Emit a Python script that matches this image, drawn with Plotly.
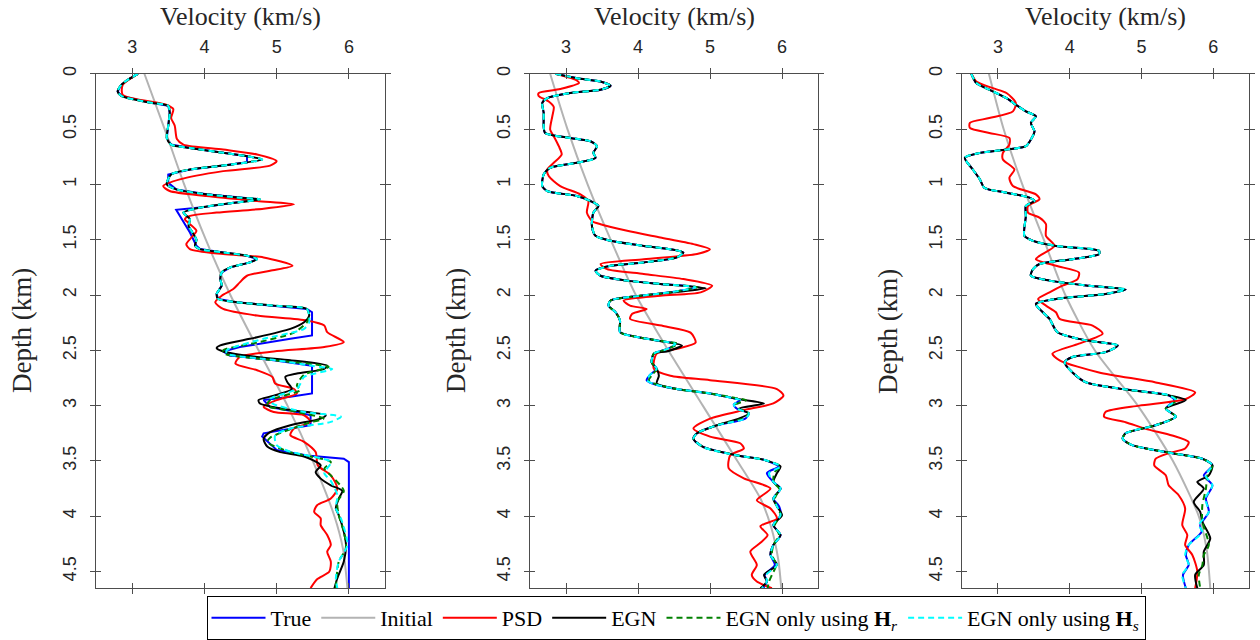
import plotly.graph_objects as go

# ---------------- axis ticks / labels ----------------
VEL_TICKS = [3, 4, 5, 6]
VEL_RANGE = [2.5, 6.5]
DEPTH_TICKS = [0, 0.5, 1, 1.5, 2, 2.5, 3, 3.5, 4, 4.5]
DEPTH_TICK_TEXT = ["0", "0.5", "1", "1.5", "2", "2.5", "3", "3.5", "4", "4.5"]
DEPTH_RANGE = [4.65, 0]
X_TITLE = "Velocity (km/s)"
Y_TITLE = "Depth (km)"
SERIES_NAMES = ["True", "Initial", "PSD", "EGN",
                "EGN only using <b>H</b><sub><i>r</i></sub>",
                "EGN only using <b>H</b><sub><i>s</i></sub>"]

# ---------------- panel 1 : (depth km, velocity km/s) ----------------
P1_TRUE = [(0, 3.08), (0.05, 2.95), (0.1, 2.85), (0.16, 2.80), (0.2, 2.85), (0.26, 3.24), (0.29, 3.50),
           (0.35, 3.52), (0.47, 3.50), (0.58, 3.48), (0.64, 3.54), (0.67, 3.80), (0.715, 4.26), (0.745, 4.59),
           (0.80, 4.59), (0.83, 4.26), (0.865, 3.80), (0.91, 3.50), (0.985, 3.50), (1.045, 3.61), (1.09, 4.03),
           (1.12, 4.49), (1.135, 4.77), (1.17, 4.36), (1.21, 3.94), (1.23, 3.61), (1.435, 3.80), (1.555, 3.89),
           (1.585, 3.94), (1.615, 4.26), (1.645, 4.59), (1.675, 4.73), (1.705, 4.63), (1.75, 4.36), (1.795, 4.24),
           (1.855, 4.22), (1.915, 4.24), (1.99, 4.17), (2.035, 4.19), (2.066, 4.45), (2.096, 4.96), (2.126, 5.42),
           (2.156, 5.49), (2.366, 5.49), (2.396, 5.19), (2.47, 4.49), (2.51, 4.26), (2.547, 4.35), (2.59, 4.96),
           (2.64, 5.49), (2.89, 5.49), (2.92, 5.19), (2.95, 4.82), (3.012, 4.91), (3.057, 5.28), (3.087, 5.47),
           (3.177, 5.47), (3.22, 5.10), (3.25, 4.82), (3.28, 4.80), (3.40, 5.0), (3.45, 5.42), (3.48, 5.93),
           (3.51, 6.0), (4.65, 6.0)]
P1_INIT = [(0, 3.17), (0.5, 3.45), (1.0, 3.72), (1.5, 4.02), (2.0, 4.36), (2.5, 4.75), (3.0, 5.15),
           (3.5, 5.50), (4.0, 5.80), (4.3, 5.92), (4.65, 5.98)]
P1_PSD = [(0, 3.08), (0.1, 2.87), (0.19, 2.87), (0.28, 3.47), (0.32, 3.57), (0.40, 3.54), (0.47, 3.59),
          (0.59, 3.62), (0.64, 3.71), (0.685, 4.26), (0.73, 4.73), (0.79, 5.0), (0.83, 4.91), (0.88, 4.26),
          (0.955, 3.66), (1.015, 3.43), (1.06, 3.52), (1.105, 4.03), (1.15, 4.73), (1.18, 5.24), (1.22, 4.82),
          (1.255, 4.17), (1.285, 3.80), (1.315, 3.73), (1.36, 3.80), (1.42, 3.89), (1.48, 3.82), (1.54, 3.75),
          (1.585, 3.80), (1.63, 4.26), (1.66, 4.82), (1.735, 5.22), (1.78, 4.91), (1.826, 4.59), (1.886, 4.49),
          (1.946, 4.40), (2.006, 4.24), (2.066, 4.15), (2.126, 4.26), (2.186, 4.73), (2.23, 5.42), (2.276, 5.66),
          (2.336, 5.70), (2.426, 5.93), (2.47, 5.66), (2.51, 4.96), (2.56, 4.49), (2.62, 4.43), (2.68, 4.73),
          (2.74, 4.94), (2.80, 4.98), (2.85, 5.24), (2.89, 5.28), (2.95, 5.0), (3.01, 4.82), (3.057, 4.96),
          (3.087, 5.38), (3.147, 5.47), (3.207, 5.24), (3.267, 5.19), (3.327, 5.38), (3.42, 5.54), (3.54, 5.57),
          (3.63, 5.75), (3.75, 5.84), (3.84, 5.75), (3.90, 5.56), (3.96, 5.52), (4.02, 5.61), (4.08, 5.61),
          (4.17, 5.70), (4.26, 5.75), (4.32, 5.70), (4.41, 5.75), (4.50, 5.73), (4.57, 5.56), (4.65, 5.47)]
P1_EGN_UPPER = [(0, 3.08), (0.05, 2.95), (0.1, 2.85), (0.16, 2.80), (0.2, 2.85), (0.26, 3.24), (0.29, 3.50),
                (0.35, 3.52), (0.47, 3.50), (0.58, 3.48), (0.64, 3.54), (0.67, 3.80), (0.715, 4.26), (0.745, 4.59),
                (0.775, 4.80), (0.83, 4.26), (0.865, 3.80), (0.91, 3.54), (1.0, 3.48), (1.045, 3.61), (1.09, 4.03),
                (1.12, 4.49), (1.135, 4.77), (1.17, 4.36), (1.21, 3.94), (1.255, 3.71), (1.315, 3.80), (1.375, 3.78),
                (1.42, 3.82), (1.5, 3.89), (1.555, 3.87), (1.585, 3.94), (1.615, 4.26), (1.645, 4.59), (1.675, 4.73),
                (1.705, 4.63), (1.75, 4.36), (1.795, 4.24), (1.855, 4.22), (1.915, 4.24), (1.99, 4.17), (2.035, 4.19),
                (2.066, 4.45), (2.096, 4.96), (2.126, 5.42), (2.186, 5.45)]
P1_EGN_LOWER = [(2.246, 5.38), (2.306, 5.19), (2.396, 4.63), (2.456, 4.22), (2.48, 4.17), (2.51, 4.26),
                (2.56, 4.73), (2.59, 5.19), (2.64, 5.70), (2.67, 5.65), (2.71, 5.28), (2.74, 5.12), (2.79, 5.15),
                (2.85, 5.21), (2.91, 4.96), (2.95, 4.75), (2.98, 4.77), (3.04, 5.19), (3.087, 5.68), (3.117, 5.61),
                (3.177, 5.19), (3.24, 4.91), (3.30, 4.82), (3.37, 4.87), (3.42, 5.05), (3.46, 5.38), (3.54, 5.61),
                (3.60, 5.54), (3.66, 5.61), (3.72, 5.75), (3.77, 5.91), (3.84, 5.86), (3.93, 5.82), (3.99, 5.86),
                (4.14, 5.93), (4.26, 5.96), (4.41, 5.93), (4.56, 5.84), (4.65, 5.80)]
P1_HR_LOWER = [(2.246, 5.42), (2.34, 5.24), (2.43, 4.73), (2.50, 4.26), (2.53, 4.28), (2.59, 4.96), (2.65, 5.72),
               (2.72, 5.38), (2.82, 5.28), (2.86, 5.33), (2.95, 4.91), (3.0, 4.87), (3.057, 5.28), (3.117, 5.65),
               (3.16, 5.42), (3.29, 4.91), (3.33, 4.87), (3.42, 5.19), (3.51, 5.75), (3.57, 5.66), (3.63, 5.75),
               (3.77, 5.93), (3.87, 5.84), (3.99, 5.86), (4.14, 5.93), (4.29, 5.96), (4.41, 5.86), (4.65, 5.82)]
P1_HS_LOWER = [(2.246, 5.45), (2.306, 5.38), (2.396, 4.82), (2.50, 4.31), (2.53, 4.31), (2.59, 5.0), (2.64, 5.49),
               (2.67, 5.77), (2.74, 5.38), (2.80, 5.33), (2.85, 5.28), (2.94, 4.91), (2.98, 4.94), (3.057, 5.38),
               (3.10, 5.89), (3.147, 5.75), (3.207, 5.19), (3.267, 4.98), (3.357, 5.0), (3.417, 5.19), (3.51, 5.75),
               (3.61, 5.66), (3.68, 5.75), (3.81, 5.84), (3.93, 5.82), (4.02, 5.89), (4.26, 5.98), (4.41, 5.86),
               (4.56, 5.82), (4.65, 5.84)]

# ---------------- panel 2 ----------------
P2_UPPER = [(0, 2.85), (0.04, 3.15), (0.07, 3.48), (0.108, 3.62), (0.144, 3.48), (0.174, 3.06), (0.22, 2.74),
            (0.264, 2.67), (0.354, 2.69), (0.474, 2.69), (0.535, 2.71), (0.58, 3.06), (0.61, 3.34), (0.655, 3.43),
            (0.715, 3.38), (0.76, 3.41), (0.805, 3.15), (0.85, 2.78), (0.91, 2.69), (1.015, 2.67), (1.06, 2.74),
            (1.105, 3.15), (1.15, 3.34), (1.195, 3.45), (1.255, 3.38), (1.375, 3.36), (1.465, 3.41), (1.51, 3.62),
            (1.556, 4.08), (1.586, 4.45), (1.616, 4.63), (1.66, 4.54), (1.706, 4.08), (1.736, 3.62), (1.78, 3.41),
            (1.826, 3.48), (1.87, 3.85), (1.90, 4.31)]
P2_EGN_LOWER = [(1.94, 4.94), (1.976, 4.50), (2.01, 3.99), (2.05, 3.62), (2.096, 3.59), (2.156, 3.69),
                (2.23, 3.75), (2.336, 3.75), (2.38, 3.99), (2.426, 4.40), (2.456, 4.61), (2.51, 4.40), (2.53, 4.22),
                (2.61, 4.19), (2.666, 4.26), (2.73, 4.29), (2.80, 4.26), (2.85, 4.54), (2.89, 5.0), (2.94, 5.38),
                (2.98, 5.75), (3.027, 5.40), (3.07, 5.54), (3.117, 5.40), (3.177, 5.10), (3.25, 4.82), (3.30, 4.77),
                (3.376, 4.91), (3.45, 5.38), (3.49, 5.75), (3.55, 5.98), (3.61, 5.93), (3.69, 5.88), (3.75, 5.98),
                (3.84, 5.88), (3.91, 5.93), (3.99, 6.0), (4.08, 5.88), (4.17, 5.98), (4.26, 5.88), (4.35, 5.84),
                (4.44, 5.93), (4.53, 5.75), (4.59, 5.79), (4.65, 5.70)]
P2_HS_LOWER = [(1.93, 4.80), (1.976, 4.45), (2.01, 3.99), (2.05, 3.62), (2.096, 3.59), (2.156, 3.69),
               (2.23, 3.75), (2.336, 3.75), (2.38, 3.99), (2.42, 4.35), (2.44, 4.52), (2.49, 4.40), (2.53, 4.22),
               (2.61, 4.19), (2.666, 4.26), (2.72, 4.17), (2.77, 4.12), (2.80, 4.20), (2.85, 4.54), (2.89, 5.0),
               (2.93, 5.30), (2.95, 5.42), (2.99, 5.33), (3.03, 5.38), (3.07, 5.54), (3.117, 5.49), (3.177, 5.10),
               (3.25, 4.82), (3.30, 4.77), (3.376, 4.91), (3.45, 5.38), (3.49, 5.75), (3.55, 5.98), (3.61, 5.82),
               (3.69, 5.88), (3.75, 5.98), (3.84, 5.88), (3.91, 5.93), (3.99, 5.98), (4.08, 5.88), (4.17, 5.98),
               (4.26, 5.88), (4.35, 5.84), (4.44, 5.93), (4.53, 5.78), (4.59, 5.79), (4.65, 5.72)]
P2_TRUE_LOWER = [(1.93, 4.80), (1.976, 4.45), (2.01, 3.99), (2.05, 3.62), (2.096, 3.59), (2.156, 3.69),
                 (2.23, 3.75), (2.336, 3.75), (2.38, 3.99), (2.42, 4.35), (2.44, 4.52), (2.49, 4.40), (2.53, 4.22),
                 (2.61, 4.19), (2.666, 4.26), (2.72, 4.17), (2.77, 4.12), (2.80, 4.20), (2.85, 4.54), (2.89, 5.0),
                 (2.93, 5.30), (2.95, 5.42), (2.99, 5.33), (3.03, 5.38), (3.07, 5.54), (3.117, 5.49), (3.177, 5.10),
                 (3.25, 4.82), (3.30, 4.77), (3.376, 4.91), (3.45, 5.38), (3.49, 5.75), (3.55, 5.95), (3.61, 5.79),
                 (3.69, 5.88), (3.75, 5.98), (3.84, 5.88), (3.91, 5.96), (3.99, 5.98), (4.08, 5.88), (4.17, 5.98),
                 (4.26, 5.88), (4.35, 5.84), (4.44, 5.90), (4.53, 5.76), (4.59, 5.79), (4.65, 5.74)]
P2_HR_LOWER = [(1.93, 4.82), (1.976, 4.45), (2.01, 3.99), (2.05, 3.62), (2.096, 3.59), (2.156, 3.69),
               (2.23, 3.75), (2.336, 3.75), (2.38, 3.99), (2.42, 4.37), (2.44, 4.55), (2.49, 4.40), (2.53, 4.22),
               (2.61, 4.19), (2.666, 4.26), (2.72, 4.20), (2.77, 4.15), (2.80, 4.22), (2.85, 4.54), (2.89, 5.0),
               (2.93, 5.35), (2.95, 5.50), (2.99, 5.36), (3.03, 5.40), (3.07, 5.54), (3.117, 5.45), (3.177, 5.10),
               (3.25, 4.82), (3.30, 4.77), (3.376, 4.91), (3.45, 5.38), (3.49, 5.75), (3.55, 5.98), (3.60, 5.90),
               (3.69, 5.88), (3.75, 5.96), (3.84, 5.90), (3.91, 5.93), (3.99, 5.98), (4.08, 5.90), (4.17, 5.96),
               (4.26, 5.88), (4.35, 5.86), (4.44, 5.92), (4.53, 5.86), (4.59, 5.82), (4.65, 5.80)]
P2_INIT = [(0, 2.78), (0.5, 3.02), (1.0, 3.30), (1.5, 3.62), (2.0, 3.97), (2.5, 4.42), (3.0, 4.90), (3.5, 5.38),
           (3.84, 5.70), (4.1, 5.85), (4.4, 5.95), (4.65, 5.99)]
P2_PSD = [(0, 2.85), (0.054, 3.13), (0.084, 3.18), (0.138, 2.92), (0.174, 2.62), (0.20, 2.62), (0.25, 2.76),
          (0.30, 2.83), (0.384, 2.81), (0.505, 2.78), (0.565, 2.83), (0.655, 2.90), (0.73, 2.94), (0.805, 2.83),
          (0.865, 2.74), (0.925, 2.76), (1.015, 2.92), (1.09, 3.20), (1.15, 3.31), (1.255, 3.29), (1.33, 3.36),
          (1.36, 3.48), (1.42, 3.85), (1.48, 4.31), (1.54, 4.77), (1.586, 5.0), (1.63, 4.82), (1.676, 4.08),
          (1.72, 3.48), (1.766, 3.57), (1.81, 4.08), (1.856, 4.63), (1.916, 5.03), (1.976, 4.87), (2.006, 4.31),
          (2.05, 3.80), (2.096, 3.89), (2.126, 4.12), (2.17, 3.92), (2.216, 3.89), (2.28, 4.35), (2.34, 4.73),
          (2.43, 4.80), (2.486, 4.54), (2.53, 4.26), (2.666, 4.22), (2.73, 4.45), (2.77, 5.0), (2.85, 5.93),
          (2.91, 6.02), (2.98, 5.88), (3.04, 5.47), (3.117, 5.0), (3.207, 4.77), (3.28, 5.0), (3.34, 5.42),
          (3.387, 5.47), (3.45, 5.28), (3.567, 5.26), (3.657, 5.47), (3.75, 5.84), (3.855, 5.65), (3.93, 5.84),
          (4.02, 5.93), (4.09, 5.70), (4.17, 5.80), (4.24, 5.70), (4.32, 5.56), (4.44, 5.65), (4.53, 5.58),
          (4.59, 5.65), (4.65, 5.86)]

# ---------------- panel 3 ----------------
P3_UPPER = [(0, 2.63), (0.084, 2.70), (0.144, 2.88), (0.22, 3.12), (0.28, 3.25), (0.34, 3.39), (0.384, 3.53),
            (0.444, 3.46), (0.52, 3.51), (0.595, 3.46), (0.655, 3.39), (0.685, 3.12), (0.715, 2.75), (0.76, 2.54),
            (0.865, 2.65), (0.955, 2.75), (1.03, 2.81), (1.075, 3.12), (1.12, 3.44), (1.15, 3.51), (1.195, 3.39),
            (1.285, 3.39), (1.465, 3.37), (1.51, 3.49), (1.556, 3.81), (1.60, 4.41), (1.63, 4.41), (1.676, 4.04),
            (1.72, 3.58), (1.766, 3.49), (1.826, 3.46), (1.87, 3.72), (1.916, 4.27), (1.95, 4.78), (1.99, 4.50),
            (2.036, 3.81), (2.08, 3.53), (2.126, 3.58), (2.216, 3.72), (2.336, 3.83), (2.41, 4.23), (2.456, 4.67),
            (2.516, 4.50), (2.56, 4.04), (2.61, 3.93), (2.70, 4.04), (2.79, 4.23), (2.85, 4.74), (2.907, 5.38)]
P3_EGN_LOWER = [(2.95, 5.62), (3.027, 5.34), (3.10, 5.48), (3.177, 5.20), (3.25, 4.78), (3.30, 4.74),
                (3.357, 4.87), (3.43, 5.43), (3.48, 5.85), (3.54, 5.99), (3.63, 5.94), (3.69, 5.78), (3.75, 5.87),
                (3.87, 5.73), (3.96, 5.82), (4.05, 5.85), (4.20, 5.96), (4.32, 5.87), (4.44, 5.87), (4.53, 5.75),
                (4.65, 5.78)]
P3_HS_LOWER = [(2.95, 5.48), (3.027, 5.34), (3.10, 5.48), (3.177, 5.20), (3.25, 4.78), (3.30, 4.74),
               (3.357, 4.87), (3.43, 5.43), (3.48, 5.85), (3.54, 5.99), (3.63, 5.89), (3.72, 5.99), (3.84, 5.89),
               (3.96, 5.94), (4.08, 5.80), (4.14, 5.85), (4.26, 5.66), (4.35, 5.61), (4.44, 5.66), (4.53, 5.57),
               (4.65, 5.62)]
P3_TRUE_LOWER = [(2.95, 5.46), (3.027, 5.34), (3.10, 5.48), (3.177, 5.20), (3.25, 4.78), (3.30, 4.74),
                 (3.357, 4.87), (3.43, 5.43), (3.48, 5.85), (3.54, 5.99), (3.63, 5.87), (3.72, 5.99), (3.84, 5.90),
                 (3.96, 5.94), (4.08, 5.82), (4.14, 5.84), (4.26, 5.66), (4.35, 5.62), (4.44, 5.66), (4.53, 5.58),
                 (4.65, 5.62)]
P3_HR_LOWER = [(2.95, 5.50), (3.027, 5.34), (3.10, 5.48), (3.177, 5.20), (3.25, 4.78), (3.30, 4.74),
               (3.357, 4.87), (3.43, 5.43), (3.48, 5.85), (3.54, 5.99), (3.63, 5.92), (3.75, 5.90), (3.90, 5.85),
               (4.05, 5.85), (4.26, 5.94), (4.35, 5.87), (4.44, 5.85), (4.53, 5.80), (4.65, 5.82)]
P3_INIT = [(0, 2.875), (0.5, 3.08), (1.0, 3.34), (1.5, 3.64), (2.0, 3.94), (2.5, 4.35), (3.0, 4.95), (3.5, 5.44),
           (4.0, 5.80), (4.3, 5.91), (4.65, 5.96)]
P3_PSD = [(0, 2.63), (0.07, 2.70), (0.13, 2.93), (0.174, 3.12), (0.264, 3.25), (0.34, 3.21), (0.40, 2.88),
          (0.444, 2.61), (0.49, 2.61), (0.535, 2.88), (0.58, 3.16), (0.64, 3.16), (0.715, 3.07), (0.775, 3.07),
          (0.865, 3.23), (0.94, 3.16), (1.015, 3.21), (1.09, 3.53), (1.135, 3.58), (1.195, 3.42), (1.255, 3.42),
          (1.30, 3.58), (1.36, 3.67), (1.465, 3.67), (1.556, 3.79), (1.646, 3.58), (1.676, 3.53), (1.736, 3.81),
          (1.796, 4.13), (1.856, 4.11), (1.916, 3.90), (1.976, 3.72), (2.036, 3.56), (2.096, 3.67), (2.156, 3.81),
          (2.216, 3.86), (2.276, 4.32), (2.35, 4.46), (2.44, 4.13), (2.53, 3.76), (2.59, 3.86), (2.70, 4.41),
          (2.79, 5.20), (2.88, 5.75), (2.94, 5.62), (3.0, 4.97), (3.057, 4.50), (3.10, 4.48), (3.15, 4.78),
          (3.21, 5.06), (3.27, 5.43), (3.33, 5.66), (3.387, 5.61), (3.43, 5.38), (3.48, 5.20), (3.54, 5.18),
          (3.63, 5.34), (3.72, 5.38), (3.81, 5.52), (3.93, 5.61), (4.08, 5.57), (4.17, 5.64), (4.26, 5.61),
          (4.35, 5.71), (4.50, 5.78), (4.65, 5.75)]

PANELS = [
    [P1_TRUE, P1_INIT, P1_PSD, P1_EGN_UPPER + P1_EGN_LOWER, P1_EGN_UPPER + P1_HR_LOWER, P1_EGN_UPPER + P1_HS_LOWER],
    [P2_UPPER + P2_TRUE_LOWER, P2_INIT, P2_PSD, P2_UPPER + P2_EGN_LOWER, P2_UPPER + P2_HR_LOWER, P2_UPPER + P2_HS_LOWER],
    [P3_UPPER + P3_TRUE_LOWER, P3_INIT, P3_PSD, P3_UPPER + P3_EGN_LOWER, P3_UPPER + P3_HR_LOWER, P3_UPPER + P3_HS_LOWER],
]

# ---------------- styling ----------------
COLORS = ["#0000ff", "#b3b3b3", "#ff0000", "#000000", "#008000", "#00ffff"]
DASHES = ["solid", "solid", "solid", "solid", "6px,4px", "6px,4px"]
X_DOMAINS = [[96 / 1260, 385 / 1260], [530 / 1260, 818 / 1260], [962 / 1260, 1249 / 1260]]
Y_DOMAIN = [1 - 590 / 640, 1 - 74 / 640]
AX_COLOR = "#4d4d4d"
TXT_COLOR = "#262626"
SERIF = "Liberation Serif"
SANS = "Liberation Sans"

fig = go.Figure()

for i, panel in enumerate(PANELS):
    k = i + 1
    xa = "x" if k == 1 else f"x{k}"
    ya = "y" if k == 1 else f"y{k}"
    for j, series in enumerate(panel):
        depth = [p[0] for p in series]
        vel = [p[1] for p in series]
        shape = "linear" if (k == 1 and j == 0) else "spline"
        fig.add_trace(go.Scatter(
            x=vel, y=depth, mode="lines", xaxis=xa, yaxis=ya,
            name=SERIES_NAMES[j], legendgroup=SERIES_NAMES[j], showlegend=(k == 1),
            line=dict(color=COLORS[j], width=2, dash=DASHES[j], shape=shape, smoothing=0.7),
            hoverinfo="skip",
        ))
    # empty trace for the overlay (inner-tick) axes
    fig.add_trace(go.Scatter(x=[], y=[], xaxis=f"x{k + 3}", yaxis=f"y{k + 3}",
                             showlegend=False, hoverinfo="skip"))

annotations = []
layout = dict(
    width=1260, height=640,
    margin=dict(l=0, r=0, t=0, b=0),
    paper_bgcolor="white", plot_bgcolor="white",
    font=dict(family=SERIF, size=18, color=TXT_COLOR),
    showlegend=True,
    legend=dict(
        orientation="h", x=676 / 1260, xanchor="center", y=1 - 598 / 640, yanchor="top",
        bordercolor="#000000", borderwidth=1, bgcolor="white",
        font=dict(family=SERIF, size=22, color="#000000"),
        itemwidth=54, tracegroupgap=0,
    ),
)

for i in range(3):
    k = i + 1
    xkey = "xaxis" if k == 1 else f"xaxis{k}"
    ykey = "yaxis" if k == 1 else f"yaxis{k}"
    layout[xkey] = dict(
        domain=X_DOMAINS[i], anchor="y" if k == 1 else f"y{k}", range=VEL_RANGE, side="top",
        tickvals=VEL_TICKS, ticks="outside", ticklen=5, tickcolor=AX_COLOR, tickwidth=1,
        showline=True, linecolor=AX_COLOR, linewidth=1, mirror="ticks",
        showgrid=False, zeroline=False, automargin=False,
        tickfont=dict(family=SANS, size=18, color=TXT_COLOR), ticklabelstandoff=8,
        fixedrange=True,
    )
    layout[ykey] = dict(
        domain=Y_DOMAIN, anchor="x" if k == 1 else f"x{k}", range=DEPTH_RANGE,
        tickvals=DEPTH_TICKS, ticktext=DEPTH_TICK_TEXT, tickangle=-90,
        ticks="outside", ticklen=5, tickcolor=AX_COLOR, tickwidth=1,
        showline=True, linecolor=AX_COLOR, linewidth=1, mirror="ticks",
        showgrid=False, zeroline=False, automargin=False,
        tickfont=dict(family=SANS, size=18, color=TXT_COLOR), ticklabelstandoff=7,
        fixedrange=True,
    )
    # overlay axes that draw inward ticks, so ticks cross the frame
    layout[f"xaxis{k + 3}"] = dict(
        overlaying="x" if k == 1 else f"x{k}", anchor=f"y{k + 3}", range=VEL_RANGE, side="top",
        tickvals=VEL_TICKS, ticks="inside", ticklen=5, tickcolor=AX_COLOR, tickwidth=1,
        showline=False, mirror="ticks", showticklabels=False, showgrid=False, zeroline=False,
        fixedrange=True,
    )
    layout[f"yaxis{k + 3}"] = dict(
        overlaying="y" if k == 1 else f"y{k}", anchor=f"x{k + 3}", range=DEPTH_RANGE,
        tickvals=DEPTH_TICKS, ticks="inside", ticklen=5, tickcolor=AX_COLOR, tickwidth=1,
        showline=False, mirror="ticks", showticklabels=False, showgrid=False, zeroline=False,
        fixedrange=True,
    )
    # axis titles
    x0, x1 = X_DOMAINS[i]
    annotations.append(dict(
        text=X_TITLE, xref="paper", yref="paper", x=(x0 + x1) / 2, y=1 - 1 / 640,
        xanchor="center", yanchor="top", showarrow=False, borderpad=0,
        font=dict(family=SERIF, size=26, color=TXT_COLOR),
    ))
    annotations.append(dict(
        text=Y_TITLE, xref="paper", yref="paper", x=x0 - 74 / 1260, y=(Y_DOMAIN[0] + Y_DOMAIN[1]) / 2,
        xanchor="center", yanchor="middle", textangle=-90, showarrow=False,
        font=dict(family=SERIF, size=27, color=TXT_COLOR),
    ))

layout["annotations"] = annotations
fig.update_layout(**layout)
fig.write_html(
    "out.html",
    config={"displayModeBar": False},
    post_script="document.body.style.margin='0';document.body.style.padding='0';",
)
